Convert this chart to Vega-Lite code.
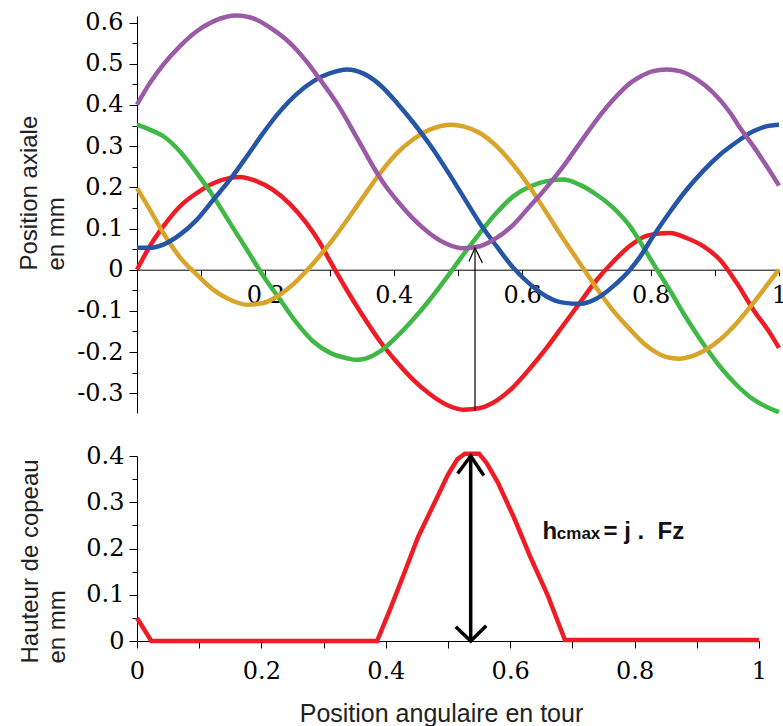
{
  "$schema": "https://vega.github.io/schema/vega-lite/v6.json",
  "background": "white",
  "padding": {"left": 17, "top": 6, "right": 2, "bottom": 2},
  "bounds": "flush",
  "spacing": 43,
  "config": {
    "view": {"stroke": null},
    "axis": {"grid": false, "domainColor": "black", "tickColor": "black", "labelColor": "black", "labelFont": "DejaVu Serif", "labelFontSize": 24, "titleFont": "Liberation Sans", "titleFontWeight": "normal", "titleColor": "#222", "labelFlush": false, "labelOverlap": false, "labelBound": false}
  },
  "datasets": {
    "top": [
      {"s": "rouge", "x": 0, "y": 0}, {"s": "rouge", "x": 0.02, "y": 0.057}, {"s": "rouge", "x": 0.041, "y": 0.105}, {"s": "rouge", "x": 0.067, "y": 0.154}, {"s": "rouge", "x": 0.093, "y": 0.186}, {"s": "rouge", "x": 0.119, "y": 0.21}, {"s": "rouge", "x": 0.145, "y": 0.223}, {"s": "rouge", "x": 0.16, "y": 0.225}, {"s": "rouge", "x": 0.186, "y": 0.215}, {"s": "rouge", "x": 0.212, "y": 0.194}, {"s": "rouge", "x": 0.238, "y": 0.16}, {"s": "rouge", "x": 0.264, "y": 0.113}, {"s": "rouge", "x": 0.285, "y": 0.065}, {"s": "rouge", "x": 0.301, "y": 0.02}, {"s": "rouge", "x": 0.327, "y": -0.05}, {"s": "rouge", "x": 0.353, "y": -0.115}, {"s": "rouge", "x": 0.379, "y": -0.175}, {"s": "rouge", "x": 0.405, "y": -0.225}, {"s": "rouge", "x": 0.43, "y": -0.267}, {"s": "rouge", "x": 0.456, "y": -0.302}, {"s": "rouge", "x": 0.482, "y": -0.328}, {"s": "rouge", "x": 0.508, "y": -0.34}, {"s": "rouge", "x": 0.534, "y": -0.336}, {"s": "rouge", "x": 0.56, "y": -0.318}, {"s": "rouge", "x": 0.586, "y": -0.285}, {"s": "rouge", "x": 0.612, "y": -0.24}, {"s": "rouge", "x": 0.638, "y": -0.19}, {"s": "rouge", "x": 0.664, "y": -0.135}, {"s": "rouge", "x": 0.69, "y": -0.08}, {"s": "rouge", "x": 0.716, "y": -0.025}, {"s": "rouge", "x": 0.742, "y": 0.02}, {"s": "rouge", "x": 0.768, "y": 0.058}, {"s": "rouge", "x": 0.79, "y": 0.08}, {"s": "rouge", "x": 0.81, "y": 0.087}, {"s": "rouge", "x": 0.83, "y": 0.089}, {"s": "rouge", "x": 0.856, "y": 0.077}, {"s": "rouge", "x": 0.882, "y": 0.057}, {"s": "rouge", "x": 0.908, "y": 0.024}, {"s": "rouge", "x": 0.934, "y": -0.032}, {"s": "rouge", "x": 0.96, "y": -0.097}, {"s": "rouge", "x": 0.986, "y": -0.154}, {"s": "rouge", "x": 1, "y": -0.19},
      {"s": "vert", "x": 0, "y": 0.352}, {"s": "vert", "x": 0.02, "y": 0.34}, {"s": "vert", "x": 0.041, "y": 0.324}, {"s": "vert", "x": 0.067, "y": 0.287}, {"s": "vert", "x": 0.093, "y": 0.235}, {"s": "vert", "x": 0.119, "y": 0.178}, {"s": "vert", "x": 0.145, "y": 0.113}, {"s": "vert", "x": 0.171, "y": 0.049}, {"s": "vert", "x": 0.197, "y": -0.016}, {"s": "vert", "x": 0.223, "y": -0.073}, {"s": "vert", "x": 0.249, "y": -0.13}, {"s": "vert", "x": 0.275, "y": -0.175}, {"s": "vert", "x": 0.301, "y": -0.202}, {"s": "vert", "x": 0.327, "y": -0.215}, {"s": "vert", "x": 0.342, "y": -0.219}, {"s": "vert", "x": 0.356, "y": -0.216}, {"s": "vert", "x": 0.379, "y": -0.198}, {"s": "vert", "x": 0.405, "y": -0.162}, {"s": "vert", "x": 0.43, "y": -0.121}, {"s": "vert", "x": 0.456, "y": -0.073}, {"s": "vert", "x": 0.482, "y": -0.02}, {"s": "vert", "x": 0.508, "y": 0.036}, {"s": "vert", "x": 0.534, "y": 0.089}, {"s": "vert", "x": 0.56, "y": 0.138}, {"s": "vert", "x": 0.586, "y": 0.178}, {"s": "vert", "x": 0.612, "y": 0.202}, {"s": "vert", "x": 0.638, "y": 0.215}, {"s": "vert", "x": 0.664, "y": 0.219}, {"s": "vert", "x": 0.69, "y": 0.206}, {"s": "vert", "x": 0.716, "y": 0.182}, {"s": "vert", "x": 0.742, "y": 0.15}, {"s": "vert", "x": 0.768, "y": 0.105}, {"s": "vert", "x": 0.778, "y": 0.082}, {"s": "vert", "x": 0.804, "y": 0.015}, {"s": "vert", "x": 0.83, "y": -0.05}, {"s": "vert", "x": 0.856, "y": -0.118}, {"s": "vert", "x": 0.882, "y": -0.18}, {"s": "vert", "x": 0.908, "y": -0.235}, {"s": "vert", "x": 0.934, "y": -0.28}, {"s": "vert", "x": 0.96, "y": -0.315}, {"s": "vert", "x": 0.986, "y": -0.337}, {"s": "vert", "x": 1, "y": -0.346},
      {"s": "jaune", "x": 0, "y": 0.198}, {"s": "jaune", "x": 0.02, "y": 0.146}, {"s": "jaune", "x": 0.041, "y": 0.089}, {"s": "jaune", "x": 0.067, "y": 0.03}, {"s": "jaune", "x": 0.093, "y": -0.012}, {"s": "jaune", "x": 0.119, "y": -0.049}, {"s": "jaune", "x": 0.145, "y": -0.073}, {"s": "jaune", "x": 0.171, "y": -0.085}, {"s": "jaune", "x": 0.197, "y": -0.081}, {"s": "jaune", "x": 0.223, "y": -0.06}, {"s": "jaune", "x": 0.249, "y": -0.027}, {"s": "jaune", "x": 0.275, "y": 0.016}, {"s": "jaune", "x": 0.301, "y": 0.065}, {"s": "jaune", "x": 0.327, "y": 0.12}, {"s": "jaune", "x": 0.353, "y": 0.178}, {"s": "jaune", "x": 0.379, "y": 0.235}, {"s": "jaune", "x": 0.405, "y": 0.283}, {"s": "jaune", "x": 0.43, "y": 0.316}, {"s": "jaune", "x": 0.456, "y": 0.34}, {"s": "jaune", "x": 0.49, "y": 0.352}, {"s": "jaune", "x": 0.508, "y": 0.348}, {"s": "jaune", "x": 0.534, "y": 0.332}, {"s": "jaune", "x": 0.56, "y": 0.3}, {"s": "jaune", "x": 0.586, "y": 0.255}, {"s": "jaune", "x": 0.612, "y": 0.2}, {"s": "jaune", "x": 0.638, "y": 0.138}, {"s": "jaune", "x": 0.664, "y": 0.075}, {"s": "jaune", "x": 0.69, "y": 0.015}, {"s": "jaune", "x": 0.716, "y": -0.045}, {"s": "jaune", "x": 0.742, "y": -0.1}, {"s": "jaune", "x": 0.768, "y": -0.145}, {"s": "jaune", "x": 0.79, "y": -0.18}, {"s": "jaune", "x": 0.81, "y": -0.202}, {"s": "jaune", "x": 0.83, "y": -0.214}, {"s": "jaune", "x": 0.845, "y": -0.216}, {"s": "jaune", "x": 0.86, "y": -0.212}, {"s": "jaune", "x": 0.882, "y": -0.198}, {"s": "jaune", "x": 0.908, "y": -0.17}, {"s": "jaune", "x": 0.934, "y": -0.13}, {"s": "jaune", "x": 0.96, "y": -0.081}, {"s": "jaune", "x": 0.986, "y": -0.028}, {"s": "jaune", "x": 1, "y": 0},
      {"s": "bleu", "x": 0, "y": 0.053}, {"s": "bleu", "x": 0.02, "y": 0.053}, {"s": "bleu", "x": 0.041, "y": 0.061}, {"s": "bleu", "x": 0.067, "y": 0.085}, {"s": "bleu", "x": 0.093, "y": 0.121}, {"s": "bleu", "x": 0.119, "y": 0.17}, {"s": "bleu", "x": 0.145, "y": 0.219}, {"s": "bleu", "x": 0.171, "y": 0.275}, {"s": "bleu", "x": 0.197, "y": 0.333}, {"s": "bleu", "x": 0.223, "y": 0.385}, {"s": "bleu", "x": 0.249, "y": 0.427}, {"s": "bleu", "x": 0.275, "y": 0.458}, {"s": "bleu", "x": 0.301, "y": 0.477}, {"s": "bleu", "x": 0.327, "y": 0.486}, {"s": "bleu", "x": 0.353, "y": 0.476}, {"s": "bleu", "x": 0.379, "y": 0.448}, {"s": "bleu", "x": 0.405, "y": 0.405}, {"s": "bleu", "x": 0.43, "y": 0.358}, {"s": "bleu", "x": 0.456, "y": 0.304}, {"s": "bleu", "x": 0.482, "y": 0.243}, {"s": "bleu", "x": 0.508, "y": 0.178}, {"s": "bleu", "x": 0.534, "y": 0.113}, {"s": "bleu", "x": 0.56, "y": 0.057}, {"s": "bleu", "x": 0.586, "y": 0.005}, {"s": "bleu", "x": 0.612, "y": -0.035}, {"s": "bleu", "x": 0.638, "y": -0.065}, {"s": "bleu", "x": 0.664, "y": -0.08}, {"s": "bleu", "x": 0.69, "y": -0.083}, {"s": "bleu", "x": 0.716, "y": -0.07}, {"s": "bleu", "x": 0.742, "y": -0.04}, {"s": "bleu", "x": 0.768, "y": 0}, {"s": "bleu", "x": 0.783, "y": 0.03}, {"s": "bleu", "x": 0.804, "y": 0.081}, {"s": "bleu", "x": 0.83, "y": 0.14}, {"s": "bleu", "x": 0.856, "y": 0.194}, {"s": "bleu", "x": 0.882, "y": 0.24}, {"s": "bleu", "x": 0.908, "y": 0.279}, {"s": "bleu", "x": 0.934, "y": 0.31}, {"s": "bleu", "x": 0.96, "y": 0.336}, {"s": "bleu", "x": 0.98, "y": 0.348}, {"s": "bleu", "x": 1, "y": 0.352},
      {"s": "violet", "x": 0, "y": 0.401}, {"s": "violet", "x": 0.02, "y": 0.453}, {"s": "violet", "x": 0.041, "y": 0.498}, {"s": "violet", "x": 0.067, "y": 0.543}, {"s": "violet", "x": 0.093, "y": 0.579}, {"s": "violet", "x": 0.119, "y": 0.603}, {"s": "violet", "x": 0.155, "y": 0.617}, {"s": "violet", "x": 0.186, "y": 0.607}, {"s": "violet", "x": 0.212, "y": 0.583}, {"s": "violet", "x": 0.238, "y": 0.551}, {"s": "violet", "x": 0.264, "y": 0.506}, {"s": "violet", "x": 0.285, "y": 0.462}, {"s": "violet", "x": 0.311, "y": 0.405}, {"s": "violet", "x": 0.342, "y": 0.322}, {"s": "violet", "x": 0.368, "y": 0.25}, {"s": "violet", "x": 0.385, "y": 0.208}, {"s": "violet", "x": 0.405, "y": 0.168}, {"s": "violet", "x": 0.43, "y": 0.124}, {"s": "violet", "x": 0.456, "y": 0.088}, {"s": "violet", "x": 0.482, "y": 0.063}, {"s": "violet", "x": 0.508, "y": 0.052}, {"s": "violet", "x": 0.534, "y": 0.057}, {"s": "violet", "x": 0.56, "y": 0.077}, {"s": "violet", "x": 0.586, "y": 0.109}, {"s": "violet", "x": 0.612, "y": 0.154}, {"s": "violet", "x": 0.638, "y": 0.2}, {"s": "violet", "x": 0.664, "y": 0.251}, {"s": "violet", "x": 0.69, "y": 0.308}, {"s": "violet", "x": 0.716, "y": 0.364}, {"s": "violet", "x": 0.742, "y": 0.413}, {"s": "violet", "x": 0.768, "y": 0.453}, {"s": "violet", "x": 0.783, "y": 0.468}, {"s": "violet", "x": 0.804, "y": 0.482}, {"s": "violet", "x": 0.825, "y": 0.486}, {"s": "violet", "x": 0.846, "y": 0.482}, {"s": "violet", "x": 0.872, "y": 0.462}, {"s": "violet", "x": 0.898, "y": 0.429}, {"s": "violet", "x": 0.924, "y": 0.381}, {"s": "violet", "x": 0.939, "y": 0.345}, {"s": "violet", "x": 0.96, "y": 0.3}, {"s": "violet", "x": 0.981, "y": 0.251}, {"s": "violet", "x": 1, "y": 0.204}
    ],
    "topArrow": [
      {"part": "tige", "o": 1, "x": 0.5265, "y": 0.053}, {"part": "tige", "o": 2, "x": 0.5265, "y": -0.342},
      {"part": "pointe", "o": 1, "x": 0.517, "y": 0.02}, {"part": "pointe", "o": 2, "x": 0.5265, "y": 0.053}, {"part": "pointe", "o": 3, "x": 0.538, "y": 0.016}
    ],
    "bottom": [
      {"x": 0, "y": 0.05}, {"x": 0.023, "y": 0}, {"x": 0.386, "y": 0}, {"x": 0.408, "y": 0.072}, {"x": 0.43, "y": 0.148}, {"x": 0.452, "y": 0.225}, {"x": 0.478, "y": 0.298}, {"x": 0.5, "y": 0.36}, {"x": 0.515, "y": 0.393}, {"x": 0.527, "y": 0.405}, {"x": 0.55, "y": 0.405}, {"x": 0.562, "y": 0.385}, {"x": 0.58, "y": 0.343}, {"x": 0.606, "y": 0.267}, {"x": 0.633, "y": 0.18}, {"x": 0.66, "y": 0.1}, {"x": 0.688, "y": 0.002}, {"x": 1, "y": 0.002}
    ],
    "bottomArrow": [
      {"part": "tige", "o": 1, "x": 0.5365, "y": 0.0}, {"part": "tige", "o": 2, "x": 0.5365, "y": 0.4},
      {"part": "haut", "o": 1, "x": 0.5155, "y": 0.362}, {"part": "haut", "o": 2, "x": 0.5365, "y": 0.4}, {"part": "haut", "o": 3, "x": 0.5575, "y": 0.358},
      {"part": "bas", "o": 1, "x": 0.5125, "y": 0.031}, {"part": "bas", "o": 2, "x": 0.5365, "y": 0.0}, {"part": "bas", "o": 3, "x": 0.5615, "y": 0.033}
    ]
  },
  "vconcat": [
    {
      "width": 642,
      "height": 397,
      "layer": [
        {
          "data": {"name": "top"},
          "mark": {"type": "line", "strokeWidth": 4.5, "interpolate": "monotone"},
          "encoding": {
            "x": {"field": "x", "type": "quantitative", "scale": {"domain": [0, 1], "nice": false, "zero": false},
              "axis": {"orient": "bottom", "offset": -143.3, "values": [0.1, 0.2, 0.3, 0.4, 0.5, 0.6, 0.7, 0.8, 0.9, 1], "labelExpr": "round(datum.value * 10) % 2 == 0 ? format(datum.value, '.1~f') : ''", "tickSize": 6, "labelPadding": 8, "title": null}},
            "y": {"field": "y", "type": "quantitative", "scale": {"domain": [-0.348, 0.616], "nice": false, "zero": false},
              "axis": {"orient": "left", "values": [-0.3, -0.2, -0.1, 0, 0.1, 0.2, 0.3, 0.4, 0.5, 0.6], "labelExpr": "datum.value < 0 ? '-' + format(-datum.value, '.1~f') : format(datum.value, '.1~f')", "tickSize": 8, "labelPadding": 6,
                "title": ["Position axiale", "en mm"], "titleX": -101, "titleY": 254, "titleAngle": 270, "titleAlign": "left", "titleBaseline": "alphabetic", "titleFontSize": 24, "titleLineHeight": 27}},
            "color": {"field": "s", "type": "nominal", "scale": {"domain": ["rouge", "vert", "jaune", "bleu", "violet"], "range": ["#ee1c25", "#3fb845", "#d9a42a", "#2455a6", "#9a5aa6"]}, "legend": null}
          }
        },
        {
          "data": {"name": "topArrow"},
          "mark": {"type": "line", "strokeWidth": 1.2, "color": "black"},
          "encoding": {
            "x": {"field": "x", "type": "quantitative"},
            "y": {"field": "y", "type": "quantitative",
              "axis": {"orient": "left", "values": [-0.25, -0.15, -0.05, 0.05, 0.15, 0.25, 0.35, 0.45, 0.55], "labels": false, "domain": false, "tickSize": 5, "title": null}},
            "detail": {"field": "part"},
            "order": {"field": "o"}
          }
        }
      ],
      "resolve": {"axis": {"y": "independent"}}
    },
    {
      "width": 622,
      "height": 185,
      "layer": [
        {
          "data": {"name": "bottom"},
          "mark": {"type": "line", "strokeWidth": 4.5, "color": "#ee1c25"},
          "encoding": {
            "x": {"field": "x", "type": "quantitative", "scale": {"domain": [0, 1], "nice": false, "zero": false},
              "axis": {"orient": "bottom", "values": [0, 0.1, 0.2, 0.3, 0.4, 0.5, 0.6, 0.7, 0.8, 0.9, 1], "labelExpr": "round(datum.value * 10) % 2 == 0 ? format(datum.value, '.1~f') : ''", "tickSize": 7, "labelPadding": 11,
                "title": "Position angulaire en tour", "titleFontSize": 25, "titleX": 304, "titleY": 80, "titleAlign": "center", "titleBaseline": "alphabetic"}},
            "y": {"field": "y", "type": "quantitative", "scale": {"domain": [0, 0.4], "nice": false, "zero": false},
              "axis": {"orient": "left", "values": [0, 0.1, 0.2, 0.3, 0.4], "labelExpr": "format(datum.value, '.1~f')", "tickSize": 8, "labelPadding": 5,
                "title": ["Hauteur de copeau", "en mm"], "titleX": -100, "titleY": 207, "titleAngle": 270, "titleAlign": "left", "titleBaseline": "alphabetic", "titleFontSize": 24, "titleLineHeight": 27}}
          }
        },
        {
          "data": {"name": "bottomArrow"},
          "mark": {"type": "line", "strokeWidth": 3.5, "color": "black"},
          "encoding": {
            "x": {"field": "x", "type": "quantitative"},
            "y": {"field": "y", "type": "quantitative",
              "axis": {"orient": "left", "values": [0.05, 0.15, 0.25, 0.35], "labels": false, "domain": false, "tickSize": 5, "title": null}},
            "detail": {"field": "part"},
            "order": {"field": "o"}
          }
        },
        {
          "data": {"values": [{"t": "h"}]},
          "mark": {"type": "text", "align": "left", "baseline": "alphabetic", "font": "Liberation Sans", "fontWeight": "bold", "fontSize": 24, "color": "#111"},
          "encoding": {"x": {"datum": 0.652, "type": "quantitative"}, "y": {"datum": 0.2205, "type": "quantitative", "axis": null}, "text": {"field": "t"}}
        },
        {
          "data": {"values": [{"t": "cmax"}]},
          "mark": {"type": "text", "align": "left", "baseline": "alphabetic", "font": "Liberation Sans", "fontWeight": "bold", "fontSize": 17, "color": "#111"},
          "encoding": {"x": {"datum": 0.675, "type": "quantitative"}, "y": {"datum": 0.2205, "type": "quantitative", "axis": null}, "text": {"field": "t"}}
        },
        {
          "data": {"values": [{"t": "= j .\u00a0 Fz"}]},
          "mark": {"type": "text", "align": "left", "baseline": "alphabetic", "font": "Liberation Sans", "fontWeight": "bold", "fontSize": 24, "color": "#111"},
          "encoding": {"x": {"datum": 0.75, "type": "quantitative"}, "y": {"datum": 0.2205, "type": "quantitative", "axis": null}, "text": {"field": "t"}}
        }
      ],
      "resolve": {"axis": {"y": "independent"}}
    }
  ]
}
